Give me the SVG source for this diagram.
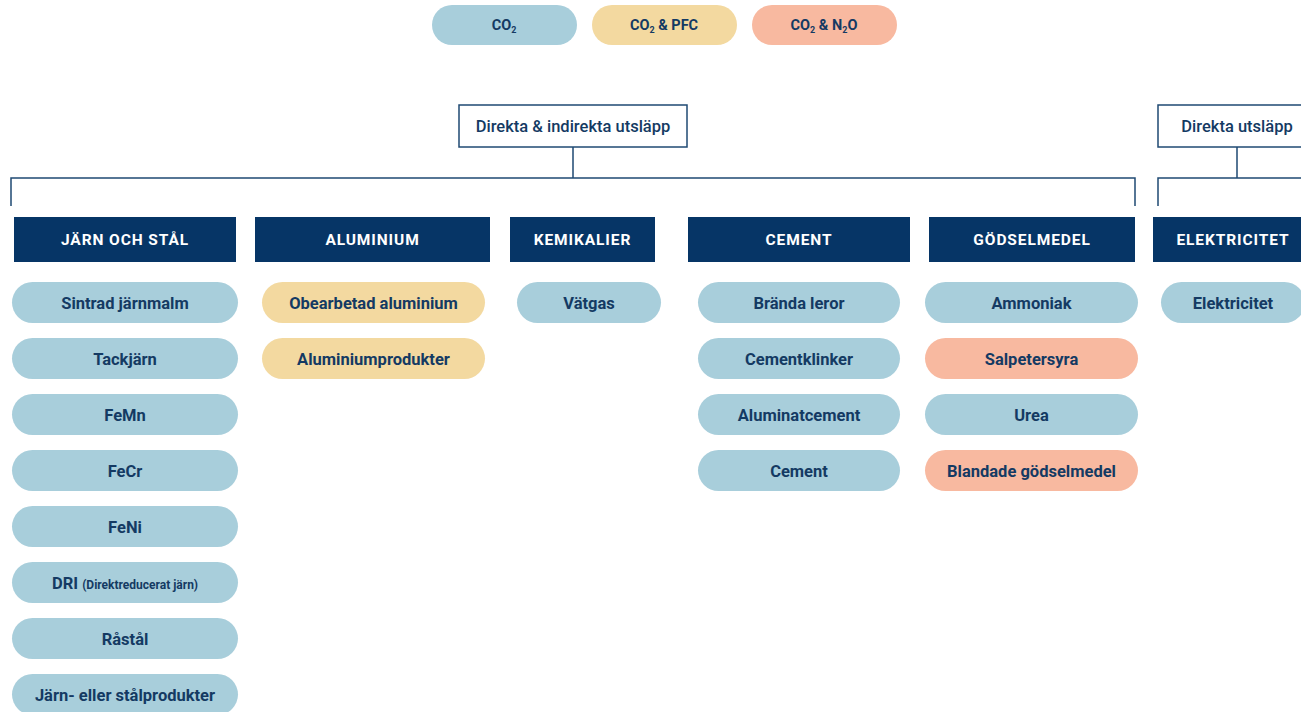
<svg xmlns="http://www.w3.org/2000/svg" width="1301" height="712" viewBox="0 0 1301 712">
<style>
  text{font-family:Roboto,"Liberation Sans",sans-serif;}
  .pill{stroke:none;}
  .b{fill:#a8cedb;}
  .y{fill:#f3d9a0;}
  .s{fill:#f8b9a0;}
  .pt{font-size:16.5px;font-weight:700;fill:#143a63;text-anchor:middle;}
  .hd{fill:#063566;}
  .ht{font-size:15.5px;font-weight:700;fill:#ffffff;text-anchor:middle;letter-spacing:0.9px;}
  .box{fill:#ffffff;stroke:#1f4a73;stroke-width:1.5;}
  .bt{font-size:16.5px;font-weight:500;fill:#143a63;text-anchor:middle;}
  .ln{fill:none;stroke:#1f4a73;stroke-width:1.5;}
  .lt{font-size:14.5px;font-weight:700;fill:#143a63;text-anchor:middle;}
</style>
<rect width="1301" height="712" fill="#ffffff"/>

<g id="legend">
  <rect class="pill b" x="432" y="5" width="145" height="40" rx="20"/>
  <text class="lt" x="504" y="30">CO<tspan font-size="9" dy="3">2</tspan></text>
  <rect class="pill y" x="592" y="5" width="145" height="40" rx="20"/>
  <text class="lt" x="664" y="30">CO<tspan font-size="9" dy="3">2</tspan><tspan dy="-3"> &amp; PFC</tspan></text>
  <rect class="pill s" x="752" y="5" width="145" height="40" rx="20"/>
  <text class="lt" x="824" y="30">CO<tspan font-size="9" dy="3">2</tspan><tspan dy="-3"> &amp; N</tspan><tspan font-size="9" dy="3">2</tspan><tspan dy="-3">O</tspan></text>
</g>

<g id="connectors">
  <path class="ln" d="M573 147 V178 M11 206 V178 H1135 V206"/>
  <path class="ln" d="M1237 147 V178 M1158 206 V178 H1301"/>
</g>

<g id="root-direkta-indirekta">
  <rect class="box" x="459" y="105" width="228" height="42"/>
  <text class="bt" x="573" y="132">Direkta &amp; indirekta utsläpp</text>
</g>
<g id="root-direkta">
  <rect class="box" x="1158" y="105" width="160" height="42"/>
  <text class="bt" x="1237" y="132">Direkta utsläpp</text>
</g>

<g id="cat-jarn">
  <rect class="hd" x="14" y="217" width="222" height="45"/>
  <text class="ht" x="125" y="245">JÄRN OCH STÅL</text>
</g>
<g id="cat-aluminium">
  <rect class="hd" x="255" y="217" width="235" height="45"/>
  <text class="ht" x="372.5" y="245">ALUMINIUM</text>
</g>
<g id="cat-kemikalier">
  <rect class="hd" x="510" y="217" width="145" height="45"/>
  <text class="ht" x="582.5" y="245">KEMIKALIER</text>
</g>
<g id="cat-cement">
  <rect class="hd" x="688" y="217" width="222" height="45"/>
  <text class="ht" x="799" y="245">CEMENT</text>
</g>
<g id="cat-godselmedel">
  <rect class="hd" x="929" y="217" width="206" height="45"/>
  <text class="ht" x="1032" y="245">GÖDSELMEDEL</text>
</g>
<g id="cat-elektricitet">
  <rect class="hd" x="1153" y="217" width="160" height="45"/>
  <text class="ht" x="1233" y="245">ELEKTRICITET</text>
</g>

<g id="p-sintrad"><rect class="pill b" x="12" y="282" width="226" height="41" rx="20.5"/><text class="pt" x="125" y="308.5">Sintrad järnmalm</text></g>
<g id="p-tackjarn"><rect class="pill b" x="12" y="338" width="226" height="41" rx="20.5"/><text class="pt" x="125" y="364.5">Tackjärn</text></g>
<g id="p-femn"><rect class="pill b" x="12" y="394" width="226" height="41" rx="20.5"/><text class="pt" x="125" y="420.5">FeMn</text></g>
<g id="p-fecr"><rect class="pill b" x="12" y="450" width="226" height="41" rx="20.5"/><text class="pt" x="125" y="476.5">FeCr</text></g>
<g id="p-feni"><rect class="pill b" x="12" y="506" width="226" height="41" rx="20.5"/><text class="pt" x="125" y="532.5">FeNi</text></g>
<g id="p-dri"><rect class="pill b" x="12" y="562" width="226" height="41" rx="20.5"/><text class="pt" x="125" y="588.5">DRI <tspan font-size="12">(Direktreducerat järn)</tspan></text></g>
<g id="p-rastal"><rect class="pill b" x="12" y="618" width="226" height="41" rx="20.5"/><text class="pt" x="125" y="644.5">Råstål</text></g>
<g id="p-jarnprod"><rect class="pill b" x="12" y="674" width="226" height="41" rx="20.5"/><text class="pt" x="125" y="700.5">Järn- eller stålprodukter</text></g>

<g id="p-obearbetad"><rect class="pill y" x="262" y="282" width="223" height="41" rx="20.5"/><text class="pt" x="373.5" y="308.5">Obearbetad aluminium</text></g>
<g id="p-alprod"><rect class="pill y" x="262" y="338" width="223" height="41" rx="20.5"/><text class="pt" x="373.5" y="364.5">Aluminiumprodukter</text></g>

<g id="p-vatgas"><rect class="pill b" x="517" y="282" width="144" height="41" rx="20.5"/><text class="pt" x="589" y="308.5">Vätgas</text></g>

<g id="p-branda"><rect class="pill b" x="698" y="282" width="202" height="41" rx="20.5"/><text class="pt" x="799" y="308.5">Brända leror</text></g>
<g id="p-klinker"><rect class="pill b" x="698" y="338" width="202" height="41" rx="20.5"/><text class="pt" x="799" y="364.5">Cementklinker</text></g>
<g id="p-aluminat"><rect class="pill b" x="698" y="394" width="202" height="41" rx="20.5"/><text class="pt" x="799" y="420.5">Aluminatcement</text></g>
<g id="p-cement"><rect class="pill b" x="698" y="450" width="202" height="41" rx="20.5"/><text class="pt" x="799" y="476.5">Cement</text></g>

<g id="p-ammoniak"><rect class="pill b" x="925" y="282" width="213" height="41" rx="20.5"/><text class="pt" x="1031.5" y="308.5">Ammoniak</text></g>
<g id="p-salpeter"><rect class="pill s" x="925" y="338" width="213" height="41" rx="20.5"/><text class="pt" x="1031.5" y="364.5">Salpetersyra</text></g>
<g id="p-urea"><rect class="pill b" x="925" y="394" width="213" height="41" rx="20.5"/><text class="pt" x="1031.5" y="420.5">Urea</text></g>
<g id="p-blandade"><rect class="pill s" x="925" y="450" width="213" height="41" rx="20.5"/><text class="pt" x="1031.5" y="476.5">Blandade gödselmedel</text></g>

<g id="p-elektricitet"><rect class="pill b" x="1161" y="282" width="144" height="41" rx="20.5"/><text class="pt" x="1233" y="308.5">Elektricitet</text></g>
</svg>
